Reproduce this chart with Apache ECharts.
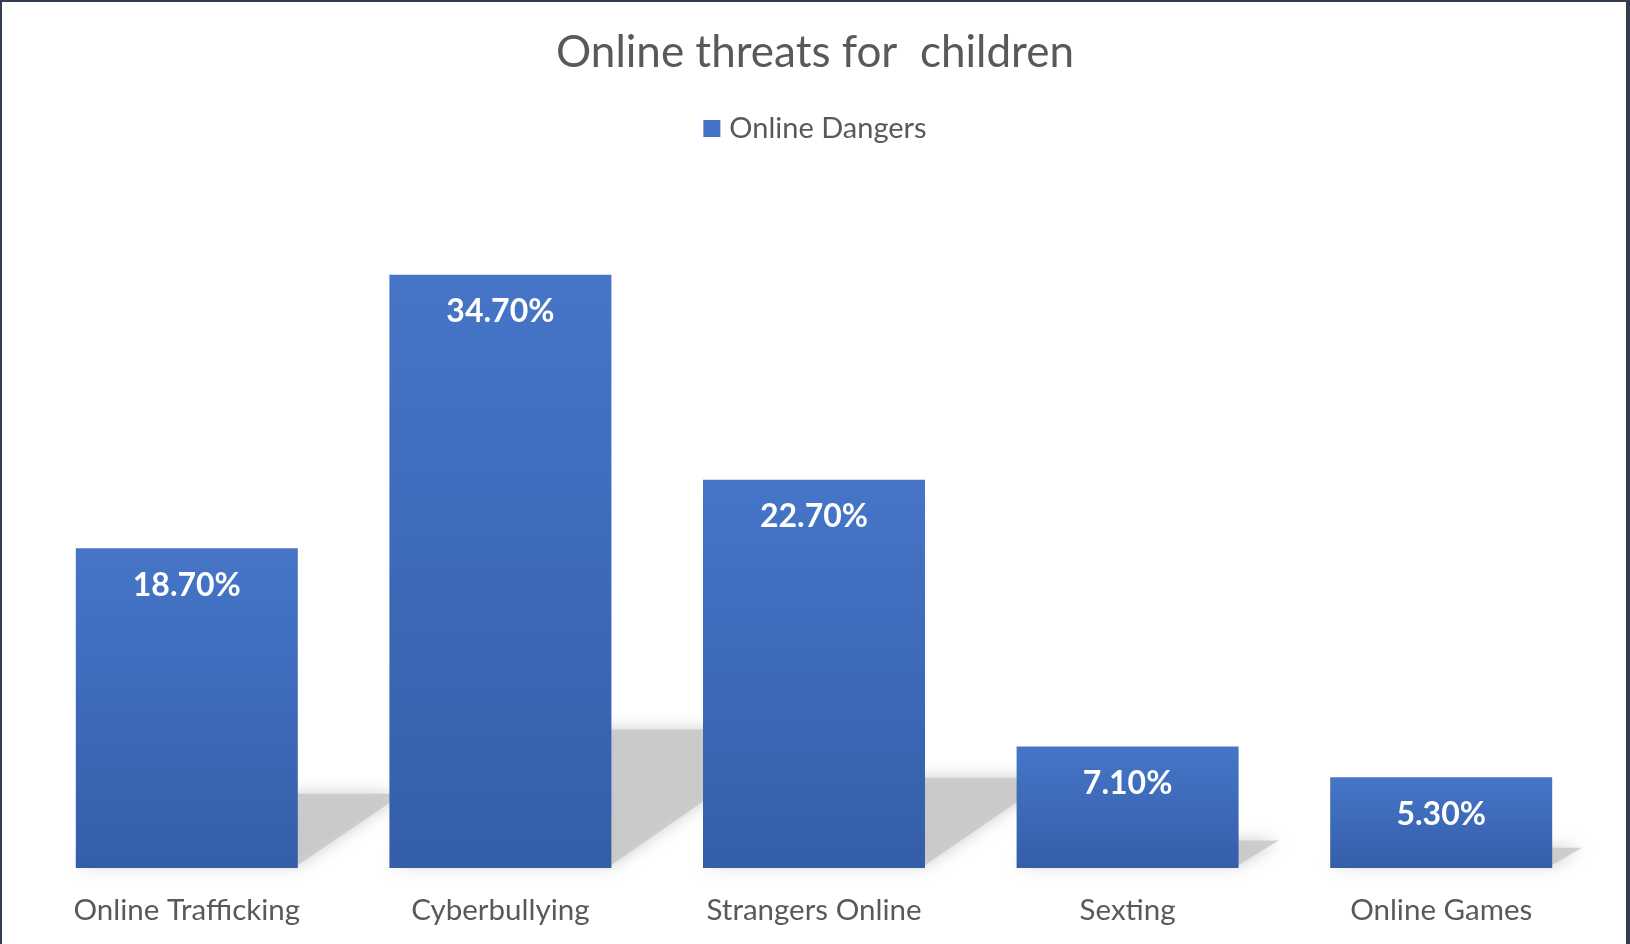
<!DOCTYPE html>
<html>
<head>
<meta charset="utf-8">
<script src="https://cdn.jsdelivr.net/npm/echarts@6/dist/echarts.min.js"></script>
<style>
html,body{margin:0;padding:0;background:#fff;}
#chart{width:1630px;height:944px;}
</style>
</head>
<body>
<div id="chart"></div>
<script>
const titleText = 'Online threats for  children';
const seriesName = 'Online Dangers';
const categories = ['Online Trafficking', 'Cyberbullying', 'Strangers Online', 'Sexting', 'Online Games'];
const values = [18.7, 34.7, 22.7, 7.1, 5.3];

const chart = echarts.init(document.getElementById('chart'));
const BAR_W = 222;
const font = 'Lato, "Open Sans", sans-serif';

const option = {
  backgroundColor: '#ffffff',
  animation: false,
  title: {
    text: titleText,
    left: 'center',
    top: 26,
    textStyle: { fontFamily: font, fontSize: 44, fontWeight: 'normal', color: '#595959' }
  },
  legend: {
    data: [seriesName],
    top: 109,
    left: 'center',
    itemWidth: 17,
    itemHeight: 17,
    itemGap: 8,
    icon: 'rect',
    itemStyle: { color: '#4472c4' },
    textStyle: { fontFamily: font, fontSize: 29, color: '#595959', padding: [0, 0, 0, 4] }
  },
  grid: { left: 30, right: 32, top: 184, bottom: 76 },
  xAxis: {
    type: 'category',
    data: categories,
    axisLine: { show: false },
    axisTick: { show: false },
    axisLabel: { fontFamily: font, fontSize: 29.5, color: '#595959', margin: 27 }
  },
  yAxis: {
    type: 'value',
    min: 0,
    max: 40,
    interval: 10,
    show: false,
    splitLine: { show: false }
  },
  series: [
    {
      type: 'custom',
      silent: true,
      z: 1,
      data: values.map((v, i) => [i, v]),
      renderItem: function (params, api) {
        const idx = api.value(0);
        const top = api.coord([idx, api.value(1)]);
        const base = api.coord([idx, 0]);
        const h = (base[1] - top[1]) * 0.235;
        const s = h * 1.4;
        const xl = top[0] - BAR_W / 2;
        const xr = top[0] + BAR_W / 2;
        const y0 = base[1] - 3;
        return {
          type: 'polygon',
          shape: { points: [[xl, y0], [xr, y0], [xr + s, y0 - h + 4], [xl + s, y0 - h + 4]] },
          style: {
            fill: 'rgba(200,200,200,0.85)',
            shadowBlur: 16,
            shadowColor: 'rgba(195,195,195,1)'
          }
        };
      }
    },
    {
      name: seriesName,
      type: 'bar',
      z: 3,
      barWidth: BAR_W,
      data: values,
      itemStyle: {
        color: new echarts.graphic.LinearGradient(0, 0, 0, 1, [
          { offset: 0, color: '#4675c8' },
          { offset: 1, color: '#345ea8' }
        ])
      },
      label: {
        show: true,
        position: 'insideTop',
        distance: 21,
        formatter: p => p.value.toFixed(2) + '%',
        fontFamily: font,
        fontSize: 32,
        fontWeight: 'bold',
        color: '#ffffff'
      }
    }
  ],
  graphic: [
    { type: 'rect', left: 0, top: 0, shape: { width: 1630, height: 2 }, style: { fill: '#323d4f' }, z: 100 },
    { type: 'rect', left: 0, top: 0, shape: { width: 2, height: 944 }, style: { fill: '#323d4f' }, z: 100 },
    { type: 'rect', right: 0, top: 0, shape: { width: 4, height: 944 }, style: { fill: '#323d4f' }, z: 100 }
  ]
};
chart.setOption(option);
</script>
</body>
</html>
